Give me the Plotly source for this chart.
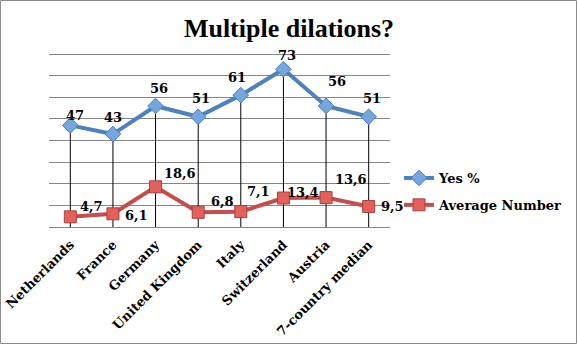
import plotly.graph_objects as go

categories = ["Netherlands", "France", "Germany", "United Kingdom", "Italy",
              "Switzerland", "Austria", "7-country median"]
yes_pct = [47, 43, 56, 51, 61, 73, 56, 51]
avg_number = [4.7, 6.1, 18.6, 6.8, 7.1, 13.4, 13.6, 9.5]

# label offsets (style only)
yes_shift = [(5, 10), (0, 17), (3, 17), (3, 18), (-4, 18), (4, 14), (11, 24), (3, 18)]
avg_shift = [(21, 10), (24, -2), (24, 13), (24, 11), (18, 20), (20, 6), (25, 18), (24, 0)]

LABEL_FONT = dict(family="DejaVu Serif", size=13, color="#000000", weight="bold")

fig = go.Figure()

# drop lines
dx, dy = [], []
for c, v in zip(categories, yes_pct):
    dx += [c, c, None]
    dy += [0, v, None]
fig.add_trace(go.Scatter(x=dx, y=dy, mode="lines", line=dict(color="black", width=1),
                         showlegend=False, hoverinfo="skip"))

fig.add_trace(go.Scatter(
    x=categories, y=yes_pct, name="Yes %", mode="lines+markers",
    line=dict(color="#4F81BD", width=4),
    marker=dict(symbol="diamond", size=12, color="#77A5DE", line=dict(color="#4A7EBB", width=1)),
    legendgroup="a"))
fig.add_trace(go.Scatter(
    x=categories, y=avg_number, name="Average Number", mode="lines+markers",
    line=dict(color="#C0504D", width=4),
    marker=dict(symbol="square", size=12, color="#E2615D", line=dict(color="#A8403D", width=1)),
    legendgroup="b"))

annotations = []
for c, v, (sx, sy) in zip(categories, yes_pct, yes_shift):
    annotations.append(dict(x=c, y=v, text="%d" % v, showarrow=False,
                            xshift=sx, yshift=sy, font=LABEL_FONT))
for c, v, (sx, sy) in zip(categories, avg_number, avg_shift):
    annotations.append(dict(x=c, y=v, text=("%.1f" % v).replace(".", ","),
                            showarrow=False, xshift=sx, yshift=sy, font=LABEL_FONT))

L, R, T, B = 49, 187, 53, 117
W, H = 577, 344
pw, ph = W - L - R, H - T - B
Y0 = H - B  # pixel row of the x axis

fig.update_layout(
    width=W, height=H,
    margin=dict(l=L, r=R, t=T, b=B, autoexpand=False),
    paper_bgcolor="white", plot_bgcolor="white",
    title=dict(text="Multiple dilations?", x=289 / W, xref="container", xanchor="center",
               y=1 - 28 / H, yref="container", yanchor="middle",
               font=dict(family="Liberation Serif", size=26, color="black", weight="bold")),
    xaxis=dict(type="category", range=[-0.5, len(categories) - 0.5], tickangle=-45,
               showgrid=False, showline=True, linecolor="#868686", linewidth=1,
               ticks="", ticklabelstandoff=4,
               tickfont=dict(family="DejaVu Serif", size=13, color="black", weight="bold"),
               automargin=False, fixedrange=True),
    yaxis=dict(range=[0, 80.5], tickvals=[10, 20, 30, 40, 50, 60, 70, 80],
               showgrid=True, gridcolor="#868686", gridwidth=1,
               showticklabels=False, zeroline=False, showline=False, automargin=False,
               fixedrange=True),
    legend=dict(x=(399 - L) / pw, xanchor="left", y=(Y0 - 163) / ph, yanchor="top",
                font=dict(family="DejaVu Serif", size=13, color="black", weight="bold"),
                tracegroupgap=7, bgcolor="rgba(0,0,0,0)"),
    annotations=annotations,
    shapes=[dict(type="rect", xref="paper", yref="paper",
                 x0=(0.5 - L) / pw, x1=(576.5 - L) / pw,
                 y0=(Y0 - 343.5) / ph, y1=(Y0 - 0.5) / ph,
                 line=dict(color="#8C8C8C", width=1), fillcolor="rgba(0,0,0,0)", layer="below")],
    showlegend=True,
)

fig.write_html("out.html")
